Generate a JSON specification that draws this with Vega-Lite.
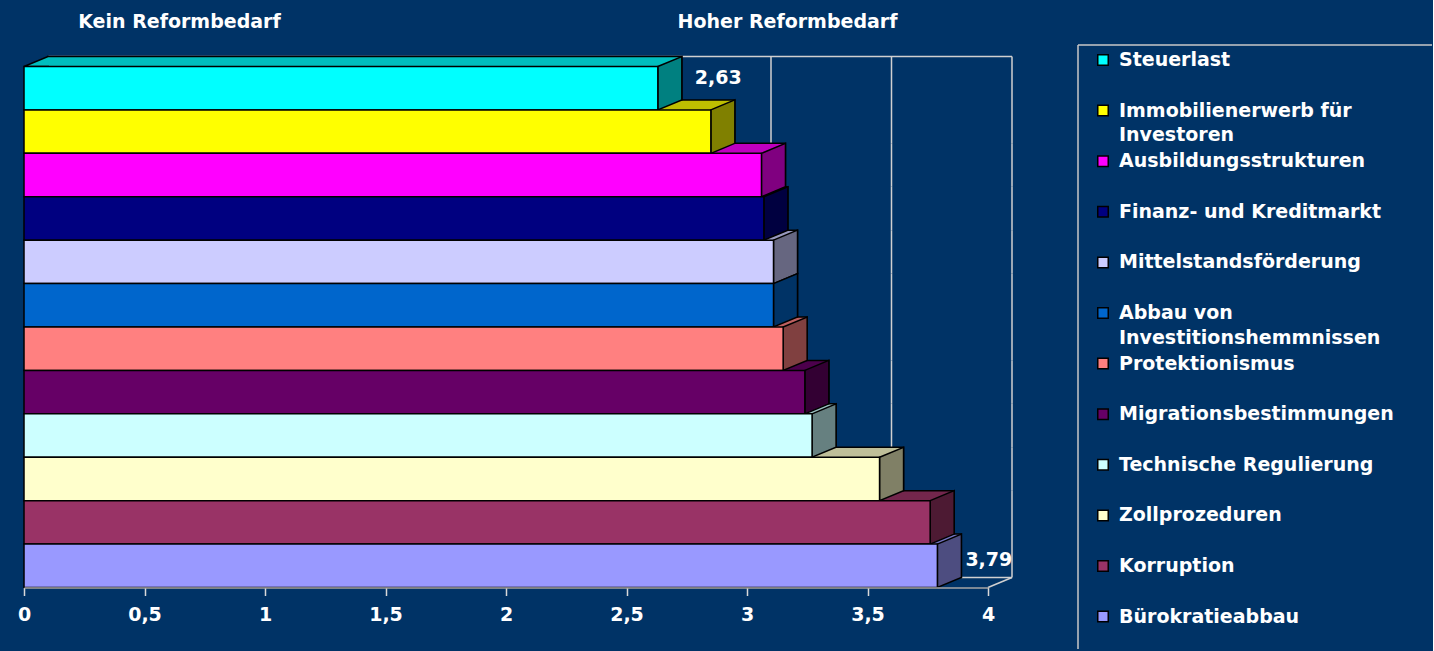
{
  "$schema": "https://vega.github.io/schema/vega-lite/v6.json",
  "background": "#003366",
  "padding": {"left": 17, "top": 12, "right": 0, "bottom": 1},
  "autosize": {"type": "pad"},
  "bounds": "flush",
  "spacing": 90,
  "config": {"view": {"stroke": null}, "font": "DejaVu Sans"},
  "datasets": {
    "bars": [
      {"name": "Steuerlast", "value": 2.63},
      {"name": "Immobilienerwerb für Investoren", "value": 2.85},
      {"name": "Ausbildungsstrukturen", "value": 3.06},
      {"name": "Finanz- und Kreditmarkt", "value": 3.07},
      {"name": "Mittelstandsförderung", "value": 3.11},
      {"name": "Abbau von Investitionshemmnissen", "value": 3.11},
      {"name": "Protektionismus", "value": 3.15},
      {"name": "Migrationsbestimmungen", "value": 3.24},
      {"name": "Technische Regulierung", "value": 3.27},
      {"name": "Zollprozeduren", "value": 3.55},
      {"name": "Korruption", "value": 3.76},
      {"name": "Bürokratieabbau", "value": 3.79}
    ]
  },
  "hconcat": [
    {
      "width": 964,
      "height": 542.5,
      "data": {"name": "bars"},
      "resolve": {"scale": {"color": "independent"}},
      "encoding": {
        "y": {
          "field": "name", "type": "nominal",
          "scale": {
            "domain": ["Steuerlast", "Immobilienerwerb für Investoren", "Ausbildungsstrukturen", "Finanz- und Kreditmarkt", "Mittelstandsförderung", "Abbau von Investitionshemmnissen", "Protektionismus", "Migrationsbestimmungen", "Technische Regulierung", "Zollprozeduren", "Korruption", "Bürokratieabbau"],
            "paddingInner": 0, "paddingOuter": 0.2476, "align": 1
          },
          "axis": null
        },
        "x": {
          "field": "value", "type": "quantitative",
          "scale": {"domain": [0, 4], "nice": false},
          "axis": {
            "values": [0, 0.5, 1, 1.5, 2, 2.5, 3, 3.5, 4],
            "labelExpr": "replace(format(datum.value, '.1~f'), '.', ',')",
            "title": null, "grid": false, "zindex": 1,
            "domainColor": "#a6a6a6", "domainWidth": 1.5,
            "tickColor": "#d9d9d9", "tickSize": 8, "tickWidth": 1.5,
            "labelColor": "white", "labelFont": "DejaVu Sans", "labelFontSize": 19, "labelFontWeight": "bold",
            "labelPadding": 10, "labelFlush": false, "labelOverlap": false
          }
        }
      },
      "layer": [
        {
          "mark": {"type": "bar", "fillOpacity": 0, "stroke": "#d0d0d0", "strokeWidth": 1.5, "xOffset": 24, "x2Offset": 24, "yOffset": -10, "y2Offset": -10},
          "encoding": {"x": {"datum": 3}, "x2": {"datum": 3}}
        },
        {
          "mark": {"type": "bar", "fillOpacity": 0, "stroke": "#d0d0d0", "strokeWidth": 1.5, "xOffset": 24, "x2Offset": 24, "yOffset": -10, "y2Offset": -10},
          "encoding": {"x": {"datum": 3.5}, "x2": {"datum": 3.5}}
        },
        {
          "mark": {"type": "bar", "fillOpacity": 0, "stroke": "#d0d0d0", "strokeWidth": 1.5, "xOffset": 24, "x2Offset": 24, "yOffset": -10, "y2Offset": -10},
          "encoding": {"x": {"datum": 4}, "x2": {"datum": 4}}
        },
        {
          "transform": [{"filter": "datum.name === 'Steuerlast'"}],
          "mark": {"type": "rule", "color": "#d0d0d0", "strokeWidth": 1.5, "xOffset": 24, "x2Offset": 24, "yOffset": -31.71},
          "encoding": {"x": {"datum": 0}, "x2": {"datum": 4}}
        },
        {
          "transform": [{"filter": "datum.name === 'Bürokratieabbau'"}],
          "mark": {"type": "rule", "color": "#d0d0d0", "strokeWidth": 1.5, "xOffset": 24, "x2Offset": 24, "yOffset": 11.71},
          "encoding": {"x": {"datum": 0}, "x2": {"datum": 4}}
        },
        {
          "transform": [{"filter": "datum.name === 'Bürokratieabbau'"}],
          "mark": {"type": "point", "shape": "M0,2.1708L2.4,1.1708", "size": 400, "filled": false, "opacity": 1, "stroke": "#d0d0d0", "strokeWidth": 1.5},
          "encoding": {"x": {"datum": 4}}
        },
        {
          "mark": {"type": "bar", "stroke": "black", "strokeWidth": 1.5, "xOffset": 24, "x2Offset": 24, "yOffset": -10, "y2Offset": -10},
          "encoding": {
            "color": {
              "field": "name", "type": "nominal", "legend": null,
              "scale": {
                "domain": ["Steuerlast", "Immobilienerwerb für Investoren", "Ausbildungsstrukturen", "Finanz- und Kreditmarkt", "Mittelstandsförderung", "Abbau von Investitionshemmnissen", "Protektionismus", "Migrationsbestimmungen", "Technische Regulierung", "Zollprozeduren", "Korruption", "Bürokratieabbau"],
                "range": ["#00BFBF", "#BFBF00", "#BF00BF", "#000060", "#9999BF", "#004C99", "#BF6060", "#4C004C", "#99BFBF", "#BFBF99", "#73264C", "#7373BF"]
              }
            }
          }
        },
        {
          "mark": {"type": "point", "shape": "M2.5,-2.1708L0,-2.1708L2.4,-3.1708L2.5,-3.1708", "size": 400, "filled": true, "opacity": 1, "stroke": "black", "strokeWidth": 1.5},
          "encoding": {
            "x": {"datum": 0},
            "color": {
              "field": "name", "type": "nominal", "legend": null,
              "scale": {
                "domain": ["Steuerlast", "Immobilienerwerb für Investoren", "Ausbildungsstrukturen", "Finanz- und Kreditmarkt", "Mittelstandsförderung", "Abbau von Investitionshemmnissen", "Protektionismus", "Migrationsbestimmungen", "Technische Regulierung", "Zollprozeduren", "Korruption", "Bürokratieabbau"],
                "range": ["#00BFBF", "#BFBF00", "#BF00BF", "#000060", "#9999BF", "#004C99", "#BF6060", "#4C004C", "#99BFBF", "#BFBF99", "#73264C", "#7373BF"]
              }
            }
          }
        },
        {
          "mark": {"type": "point", "shape": "M0,-2.1708L2.4,-3.1708L2.4,1.1708L0,2.1708Z", "size": 400, "filled": true, "opacity": 1, "stroke": "black", "strokeWidth": 1.5},
          "encoding": {
            "color": {
              "field": "name", "type": "nominal", "legend": null,
              "scale": {
                "domain": ["Steuerlast", "Immobilienerwerb für Investoren", "Ausbildungsstrukturen", "Finanz- und Kreditmarkt", "Mittelstandsförderung", "Abbau von Investitionshemmnissen", "Protektionismus", "Migrationsbestimmungen", "Technische Regulierung", "Zollprozeduren", "Korruption", "Bürokratieabbau"],
                "range": ["#008080", "#808000", "#800080", "#000040", "#666680", "#003366", "#804040", "#330033", "#668080", "#808066", "#4D1A33", "#4D4D80"]
              }
            }
          }
        },
        {
          "mark": {"type": "bar", "stroke": "black", "strokeWidth": 1.5},
          "encoding": {
            "color": {
              "field": "name", "type": "nominal", "legend": null,
              "scale": {
                "domain": ["Steuerlast", "Immobilienerwerb für Investoren", "Ausbildungsstrukturen", "Finanz- und Kreditmarkt", "Mittelstandsförderung", "Abbau von Investitionshemmnissen", "Protektionismus", "Migrationsbestimmungen", "Technische Regulierung", "Zollprozeduren", "Korruption", "Bürokratieabbau"],
                "range": ["#00FFFF", "#FFFF00", "#FF00FF", "#000080", "#CCCCFF", "#0066CC", "#FF8080", "#660066", "#CCFFFF", "#FFFFCC", "#993366", "#9999FF"]
              }
            }
          }
        },
        {
          "transform": [
            {"filter": "datum.name === 'Steuerlast'"},
            {"calculate": "replace(format(datum.value, '.2f'), '.', ',')", "as": "lbl"}
          ],
          "mark": {"type": "text", "align": "left", "baseline": "middle", "dx": 37, "dy": -10.7, "font": "DejaVu Sans", "fontSize": 19, "fontWeight": "bold", "color": "white"},
          "encoding": {"text": {"field": "lbl"}}
        },
        {
          "transform": [
            {"filter": "datum.name === 'Bürokratieabbau'"},
            {"calculate": "replace(format(datum.value, '.2f'), '.', ',')", "as": "lbl"}
          ],
          "mark": {"type": "text", "align": "left", "baseline": "middle", "dx": 28, "dy": -5.8, "font": "DejaVu Sans", "fontSize": 19, "fontWeight": "bold", "color": "white"},
          "encoding": {"text": {"field": "lbl"}}
        },
        {
          "transform": [{"filter": "datum.name === 'Steuerlast'"}],
          "mark": {"type": "text", "text": "Kein Reformbedarf", "align": "center", "baseline": "middle", "dy": -66.7, "font": "DejaVu Sans", "fontSize": 19, "fontWeight": "bold", "color": "white"},
          "encoding": {"x": {"datum": 0.645}}
        },
        {
          "transform": [{"filter": "datum.name === 'Steuerlast'"}],
          "mark": {"type": "text", "text": "Hoher Reformbedarf", "align": "center", "baseline": "middle", "dy": -66.7, "font": "DejaVu Sans", "fontSize": 19, "fontWeight": "bold", "color": "white"},
          "encoding": {"x": {"datum": 3.168}}
        }
      ]
    },
    {
      "width": 354,
      "height": 604,
      "layer": [
        {
          "data": {"values": [{}]},
          "mark": {"type": "rule", "color": "#c8c8c8", "strokeWidth": 1.5},
          "encoding": {"x": {"value": 0}}
        },
        {
          "data": {"values": [{}]},
          "mark": {"type": "rule", "color": "#c8c8c8", "strokeWidth": 1.5},
          "encoding": {"y": {"value": 0}}
        },
        {
          "data": {"name": "bars"},
          "mark": {"type": "point", "shape": "square", "filled": true, "opacity": 1, "size": 110, "stroke": "black", "strokeWidth": 1.5, "xOffset": 25},
          "encoding": {
            "x": {"datum": 0, "type": "quantitative", "scale": {"domain": [0, 1]}, "axis": null},
            "y": {
              "field": "name", "type": "nominal", "axis": null,
              "scale": {
                "type": "point",
                "domain": ["Steuerlast", "Immobilienerwerb für Investoren", "Ausbildungsstrukturen", "Finanz- und Kreditmarkt", "Mittelstandsförderung", "Abbau von Investitionshemmnissen", "Protektionismus", "Migrationsbestimmungen", "Technische Regulierung", "Zollprozeduren", "Korruption", "Bürokratieabbau"],
                "padding": 0.4684, "align": 0.3165
              }
            },
            "color": {
              "field": "name", "type": "nominal", "legend": null,
              "scale": {
                "domain": ["Steuerlast", "Immobilienerwerb für Investoren", "Ausbildungsstrukturen", "Finanz- und Kreditmarkt", "Mittelstandsförderung", "Abbau von Investitionshemmnissen", "Protektionismus", "Migrationsbestimmungen", "Technische Regulierung", "Zollprozeduren", "Korruption", "Bürokratieabbau"],
                "range": ["#00FFFF", "#FFFF00", "#FF00FF", "#000080", "#CCCCFF", "#0066CC", "#FF8080", "#660066", "#CCFFFF", "#FFFFCC", "#993366", "#9999FF"]
              }
            }
          }
        },
        {
          "data": {"name": "bars"},
          "transform": [
            {"calculate": "replace(replace(datum.name, 'für Investoren', 'für\\nInvestoren'), 'von Investitionshemmnissen', 'von\\nInvestitionshemmnissen')", "as": "label"}
          ],
          "mark": {"type": "text", "align": "left", "baseline": "middle", "xOffset": 41, "font": "DejaVu Sans", "fontSize": 19, "fontWeight": "bold", "color": "white", "lineBreak": "\n", "lineHeight": 24.5},
          "encoding": {
            "x": {"datum": 0, "type": "quantitative", "scale": {"domain": [0, 1]}, "axis": null},
            "y": {
              "field": "name", "type": "nominal", "axis": null,
              "scale": {
                "type": "point",
                "domain": ["Steuerlast", "Immobilienerwerb für Investoren", "Ausbildungsstrukturen", "Finanz- und Kreditmarkt", "Mittelstandsförderung", "Abbau von Investitionshemmnissen", "Protektionismus", "Migrationsbestimmungen", "Technische Regulierung", "Zollprozeduren", "Korruption", "Bürokratieabbau"],
                "padding": 0.4684, "align": 0.3165
              }
            },
            "text": {"field": "label"}
          }
        }
      ]
    }
  ]
}
